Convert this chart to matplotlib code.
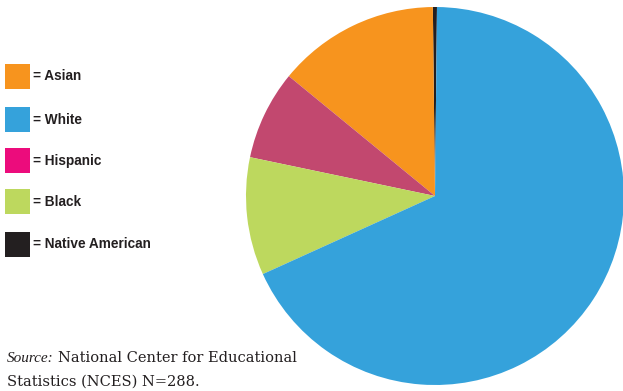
import matplotlib.pyplot as plt
from matplotlib.patches import Rectangle

# Student counts by group (N=288)
groups = ['Native American', 'Asian', 'Hispanic', 'Black', 'White']
counts = [1, 40, 22, 29, 196]
pie_colors = ['#231F20', '#F7941E', '#C2486F', '#BDD85E', '#35A2DB']

# Legend entries, top to bottom
legend_labels = ['Asian', 'White', 'Hispanic', 'Black', 'Native American']
legend_colors = ['#F7941E', '#35A2DB', '#EC0C7C', '#BDD85E', '#231F20']

W, H = 623, 391
fig = plt.figure(figsize=(W / 100, H / 100), dpi=100)

# Pie axes placed in pixel terms: center (435, 196), radius 189
cx, cy, r = 435, 196, 189
ax = fig.add_axes([(cx - r) / W, (H - cy - r) / H, 2 * r / W, 2 * r / H])
wedges, _ = ax.pie(counts, colors=pie_colors, startangle=89.4, counterclock=True,
                   radius=1, wedgeprops=dict(linewidth=0))
for w in wedges:
    w.set_clip_on(False)
ax.set_xlim(-1, 1)
ax.set_ylim(-1, 1)
ax.set_aspect('equal')
ax.axis('off')

# Manual legend squares on the left
box_tops = [64, 107, 148, 189, 232]
for lab, col, top in zip(legend_labels, legend_colors, box_tops):
    fig.add_artist(Rectangle((5 / W, (H - top - 25) / H), 25 / W, 25 / H,
                             transform=fig.transFigure, color=col, lw=0))
    fig.text(33 / W, (H - top - 12.5) / H, '= ' + lab, fontsize=9.8,
             fontweight='bold', family='Liberation Sans', color='#231F20',
             va='center', ha='left')

# Source note ("Source:" in italic, rest placed right after it)
src = fig.text(7 / W, (H - 362) / H, 'Source:', fontsize=11, style='italic',
               family='Liberation Serif', color='#231F20', va='baseline')
ax.annotate('National Center for Educational', xy=(1, 0), xycoords=src,
            xytext=(3, 0), textcoords='offset points', fontsize=10.5,
            family='DejaVu Serif', color='#231F20', va='bottom',
            annotation_clip=False)
fig.text(7 / W, (H - 386) / H, 'Statistics (NCES) N=288.',
         fontsize=10.5, family='DejaVu Serif', color='#231F20', va='baseline')

fig.savefig('out.png', dpi=100)
